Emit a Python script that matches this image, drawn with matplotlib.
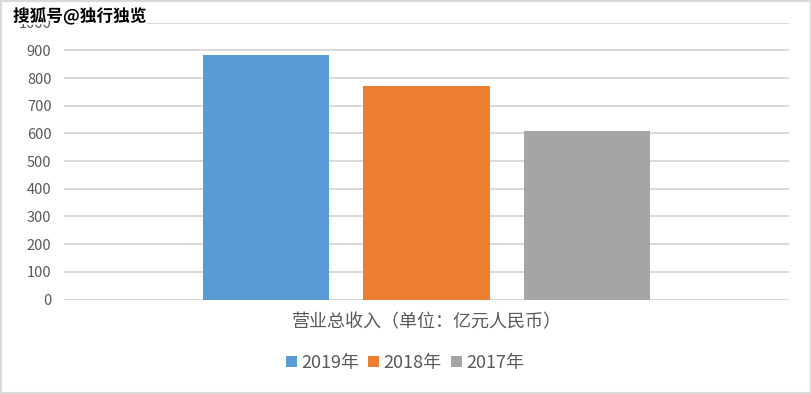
import matplotlib.pyplot as plt
import matplotlib.patches as mpatches
import matplotlib.patheffects as pe

plt.rcParams['font.family'] = ['Noto Sans CJK SC', 'DejaVu Sans']

# --- data ---
years = ["2019年", "2018年", "2017年"]
revenue = [885, 770, 607]
colors = ["#5B9BD5", "#ED7D31", "#A5A5A5"]
yticks = [0, 100, 200, 300, 400, 500, 600, 700, 800, 900, 1000]

W, H = 812, 394
fig = plt.figure(figsize=(W / 100, H / 100), dpi=100)
ax = fig.add_axes([64 / W, (H - 299.5) / H, 725 / W, (299.5 - 22.7) / H])

# --- bars ---
offsets = [-0.2214, 0.0, 0.2214]
for off, val, col, lab in zip(offsets, revenue, colors, years):
    ax.bar(off, val, width=0.1738, color=col, label=lab, zorder=3)

ax.set_xlim(-0.5, 0.5)
ax.set_ylim(0, 1000)
ax.set_yticks(yticks)
ax.set_xticks([])
ax.grid(axis="y", color="#D9D9D9", linewidth=1.4, zorder=0)
for s in ax.spines.values():
    s.set_visible(False)
ax.tick_params(axis="y", length=0, pad=9, labelsize=10.5, labelcolor="#595959")

ax.set_xlabel("营业总收入（单位：亿元人民币）", fontsize=13, color="#595959", labelpad=10)

# legend
fig.legend(loc="center", bbox_to_anchor=(405 / W, 1 - 363 / H), ncol=3, frameon=False,
           fontsize=13, handlelength=0.6, handleheight=0.6, handletextpad=0.25,
           columnspacing=0.5, labelcolor="#595959")

# outer border
fig.patches.append(mpatches.Rectangle((0, 0), 1, 1, transform=fig.transFigure,
                                      fill=False, edgecolor="#D9D9D9", linewidth=3))

# watermark
fig.text(13 / W, 1 - 16 / H, "搜狐号@独行独览", fontsize=12, fontweight="bold",
         color="black", va="center", ha="left",
         path_effects=[pe.withStroke(linewidth=3, foreground="white")])

fig.savefig("out.png", dpi=100)
